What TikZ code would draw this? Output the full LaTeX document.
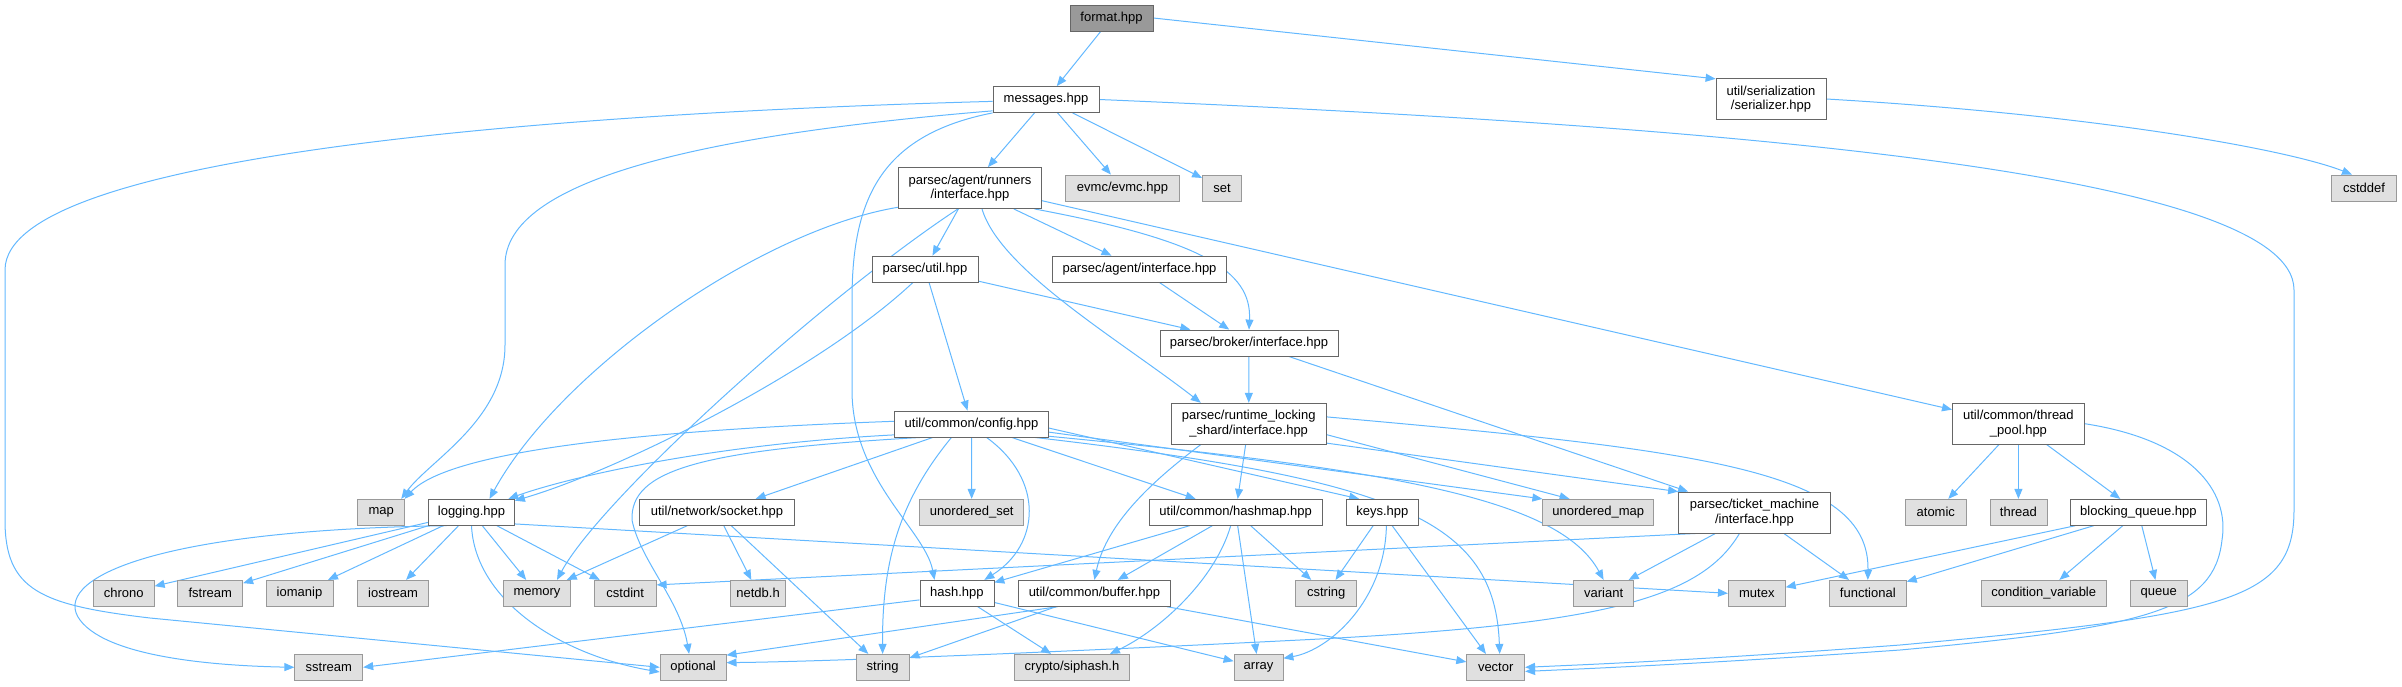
\documentclass[tikz,border=0pt]{standalone}
\usepackage{fontspec}
\setmainfont{Liberation Sans}
\usetikzlibrary{arrows.meta}
\definecolor{edgec}{HTML}{63B8FF}
\definecolor{bord}{HTML}{666666}
\definecolor{gbord}{HTML}{999999}
\definecolor{gfill}{HTML}{E0E0E0}
\pgfdeclarelayer{bg}
\pgfsetlayers{bg,main}
\begin{document}
\begin{tikzpicture}[x=1pt,y=-1pt,
  box/.style={draw=bord, fill=white, line width=0.8pt, inner sep=0pt, minimum height=26pt,
              font=\fontsize{13}{14.5}\selectfont, align=center},
  twoline/.style={minimum height=41pt},
  sysbox/.style={box, draw=gbord, fill=gfill},
  rootbox/.style={box, fill=gbord},
  edge/.style={draw=edgec, line width=1pt, -{Triangle[length=10pt,width=8pt]}}
]
\useasboundingbox (0,0) rectangle (2402,686);

% row 0
\node[rootbox, minimum width=83pt] (format) at (1111.5,18) {format.hpp};
% row 1
\node[box, minimum width=106pt] (messages) at (1046,99.5) {messages.hpp};
\node[box, twoline, minimum width=110pt] (serializer) at (1771,99) {util/serialization\\/serializer.hpp};
% row 2
\node[box, twoline, minimum width=143pt] (runners) at (970,188) {parsec/agent/runners\\/interface.hpp};
\node[sysbox, minimum width=114pt] (evmc) at (1122.5,188) {evmc/evmc.hpp};
\node[sysbox, minimum width=39pt] (set) at (1222,188) {set};
\node[sysbox, minimum width=65pt] (cstddef) at (2364,188) {cstddef};
% row 3
\node[box, minimum width=106pt] (putil) at (925,269) {parsec/util.hpp};
\node[box, minimum width=174pt] (agent) at (1139.5,269) {parsec/agent/interface.hpp};
% row 4
\node[box, minimum width=178pt] (broker) at (1249,343) {parsec/broker/interface.hpp};
% row 5
\node[box, minimum width=154pt] (config) at (971.5,424) {util/common/config.hpp};
\node[box, twoline, minimum width=155pt] (rls) at (1248.7,423.7) {parsec/runtime\_locking\\\_shard/interface.hpp};
\node[box, twoline, minimum width=132pt] (tpool) at (2018.4,423.7) {util/common/thread\\\_pool.hpp};
% row 6
\node[sysbox, minimum width=47pt] (map) at (381.3,512.3) {map};
\node[box, minimum width=86pt] (logging) at (471.5,512.3) {logging.hpp};
\node[box, minimum width=155pt] (socket) at (717,512.3) {util/network/socket.hpp};
\node[sysbox, minimum width=104pt] (uset) at (971.7,512.3) {unordered\_set};
\node[box, minimum width=173pt] (hashmap) at (1235.7,512.3) {util/common/hashmap.hpp};
\node[box, minimum width=72pt] (keys) at (1382.4,512.3) {keys.hpp};
\node[sysbox, minimum width=111pt] (umap) at (1598.3,512.3) {unordered\_map};
\node[box, twoline, minimum width=152pt] (ticket) at (1754.5,512.5) {parsec/ticket\_machine\\/interface.hpp};
\node[sysbox, minimum width=61pt] (atomic) at (1935.8,512.3) {atomic};
\node[sysbox, minimum width=57pt] (thread) at (2018.4,512.3) {thread};
\node[box, minimum width=136pt] (bqueue) at (2138.4,512.3) {blocking\_queue.hpp};
% row 7
\node[sysbox, minimum width=61pt] (chrono) at (123.7,593.3) {chrono};
\node[sysbox, minimum width=65pt] (fstream) at (210.2,593.3) {fstream};
\node[sysbox, minimum width=67pt] (iomanip) at (299.5,593.3) {iomanip};
\node[sysbox, minimum width=71pt] (iostream) at (393.1,593.3) {iostream};
\node[sysbox, minimum width=67pt] (memory) at (537,593.3) {memory};
\node[sysbox, minimum width=62pt] (cstdint) at (625.2,593.3) {cstdint};
\node[sysbox, minimum width=55pt] (netdb) at (758.1,593.3) {netdb.h};
\node[box, minimum width=74pt] (hash) at (956.9,593.3) {hash.hpp};
\node[box, minimum width=152pt] (buffer) at (1094.4,593.3) {util/common/buffer.hpp};
\node[sysbox, minimum width=61pt] (cstring) at (1326.2,593.3) {cstring};
\node[sysbox, minimum width=60pt] (variant) at (1603.6,593.3) {variant};
\node[sysbox, minimum width=57pt] (mutex) at (1756.8,593.3) {mutex};
\node[sysbox, minimum width=77pt] (functional) at (1867.8,593.3) {functional};
\node[sysbox, minimum width=125pt] (condvar) at (2043.7,593.3) {condition\_variable};
\node[sysbox, minimum width=57pt] (queue) at (2158.8,593.3) {queue};
% row 8
\node[sysbox, minimum width=68pt] (sstream) at (328.8,667.3) {sstream};
\node[sysbox, minimum width=66pt] (optional) at (693.1,667.3) {optional};
\node[sysbox, minimum width=53pt] (string) at (882.6,667.3) {string};
\node[sysbox, minimum width=115pt] (siphash) at (1072,667.3) {crypto/siphash.h};
\node[sysbox, minimum width=49pt] (array) at (1258.5,667.3) {array};
\node[sysbox, minimum width=58pt] (vector) at (1495.7,667.3) {vector};

\begin{pgfonlayer}{bg}
% format
\draw[edge] (format) -- (messages);
\draw[edge] (format.east) -- (serializer.160);
\draw[edge] (serializer.east) .. controls (2100,115) and (2290,150) .. ([xshift=-12pt]cstddef.north);
% messages
\draw[edge] (messages) -- (runners);
\draw[edge] (messages) -- (evmc);
\draw[edge] (messages) -- (set);
\draw[edge] (messages.182) .. controls (600,112) and (5,150) .. (5,270) -- (5,520)
  .. controls (5,590) and (40,605) .. (150,618) -- (optional.west);
\draw[edge] (messages.192) .. controls (700,135) and (505,180) .. (505,265) -- (505,345)
  .. controls (505,420) and (430,460) .. ([xshift=-4pt]map.north east);
\draw[edge] (messages.south west) .. controls (880,135) and (852,200) .. (852,300) -- (852,390)
  .. controls (852,480) and (925,530) .. ([xshift=15pt]hash.north west);
\draw[edge] (messages.east) .. controls (1700,125) and (2294,170) .. (2294,290) -- (2294,510)
  .. controls (2294,600) and (2230,615) .. (1900,645) .. controls (1700,660) and (1600,664) .. (vector.east);
% runners
\draw[edge] (runners.195) .. controls (760,230) and (560,370) .. ([xshift=18pt]logging.north);
\draw[edge] (runners.240) .. controls (820,300) and (600,500) .. ([xshift=20pt]memory.north);
\draw[edge] (runners) -- (putil);
\draw[edge] (runners) -- (agent);
\draw[edge] (runners.-18) .. controls (1200,240) and (1252,270) .. (broker.north);
\draw[edge] ([xshift=12pt]runners.south) .. controls (1000,270) and (1120,340) .. ([xshift=30pt]rls.north west);
\draw[edge] (runners.-10) -- (tpool.168);
% parsec/util
\draw[edge] (putil) -- (broker);
\draw[edge] (putil) -- (config);
\draw[edge] ([xshift=-12pt]putil.south) .. controls (820,370) and (620,470) .. (logging.15);
% agent, broker
\draw[edge] (agent) -- (broker);
\draw[edge] (broker) -- (rls);
\draw[edge] (broker) -- ([xshift=10pt]ticket.north west);
% config
\draw[edge] (config.178) .. controls (650,430) and (450,450) .. (map.30);
\draw[edge] (config.188) .. controls (700,445) and (560,480) .. (logging.20);
\draw[edge] (config.195) .. controls (700,450) and (630,470) .. (632,520)
  .. controls (640,560) and (680,600) .. ([xshift=-4pt]optional.north);
\draw[edge] (config) -- (socket);
\draw[edge] (config) -- (uset);
\draw[edge] ([xshift=-20pt]config.south) .. controls (900,500) and (882,560) .. (string.north);
\draw[edge] ([xshift=15pt]config.south) .. controls (1045,480) and (1040,545) .. ([xshift=-10pt]hash.north east);
\draw[edge] (config) -- (hashmap);
\draw[edge] (config.-3) -- (keys.150);
\draw[edge] (config.-6) -- (umap.north west);
\draw[edge] (config.-9) .. controls (1400,470) and (1560,500) .. (variant.north);
\draw[edge] (config.-12) .. controls (1400,480) and (1495,520) .. ([xshift=4pt]vector.north);
% runtime locking shard
\draw[edge] (rls) -- (hashmap);
\draw[edge] ([xshift=30pt]rls.south west) .. controls (1140,490) and (1105,530) .. (buffer.north);
\draw[edge] (rls.-8) -- (umap.155);
\draw[edge] (rls.-14) -- (ticket.north west);
\draw[edge] (rls.5) .. controls (1700,450) and (1870,470) .. (functional.north);
% thread pool
\draw[edge] (tpool) -- (atomic);
\draw[edge] (tpool) -- (thread);
\draw[edge] (tpool) -- (bqueue);
\draw[edge] (tpool.east) .. controls (2190,440) and (2230,490) .. (2222,540)
  .. controls (2214,610) and (2150,627) .. (1900,650) .. controls (1700,664) and (1600,668) .. (vector.-8);
% blocking queue
\draw[edge] (bqueue) -- (mutex);
\draw[edge] (bqueue) -- (functional);
\draw[edge] (bqueue) -- (condvar);
\draw[edge] (bqueue) -- (queue);
% ticket machine
\draw[edge] (ticket.200) -- (cstdint.15);
\draw[edge] (ticket) -- (variant);
\draw[edge] (ticket) -- (functional);
\draw[edge] ([xshift=-15pt]ticket.south) .. controls (1700,600) and (1600,625) .. (1300,640)
  .. controls (1000,655) and (800,662) .. (optional.8);
% hashmap
\draw[edge] (hashmap) -- (hash);
\draw[edge] (hashmap) -- (buffer);
\draw[edge] ([xshift=-5pt]hashmap.south) .. controls (1215,580) and (1160,630) .. ([xshift=-20pt]siphash.north east);
\draw[edge] (hashmap) -- (array);
\draw[edge] (hashmap) -- (cstring);
% keys
\draw[edge] (keys) -- (cstring);
\draw[edge] ([xshift=4pt]keys.south) .. controls (1385,600) and (1330,650) .. (array.20);
\draw[edge] (keys) -- (vector);
% hash
\draw[edge] (hash.190) -- (sstream.east);
\draw[edge] (hash) -- (siphash);
\draw[edge] (hash) -- (array);
% buffer
\draw[edge] (buffer) -- (string);
\draw[edge] (buffer.200) -- (optional.20);
\draw[edge] (buffer) -- (vector);
% logging
\draw[edge] (logging) -- (chrono);
\draw[edge] (logging) -- (fstream);
\draw[edge] (logging) -- (iomanip);
\draw[edge] (logging) -- (iostream);
\draw[edge] (logging) -- (memory);
\draw[edge] (logging) -- (cstdint);
\draw[edge] (logging.south) .. controls (475,600) and (560,655) .. (optional.-172);
\draw[edge] ([xshift=-25pt]logging.south) .. controls (150,530) and (50,580) .. (80,620)
  .. controls (110,660) and (230,666) .. (sstream.west);
\draw[edge] (logging.-15) -- (mutex.west);
% socket
\draw[edge] (socket) -- (memory);
\draw[edge] (socket) -- (netdb);
\draw[edge] (socket) -- (string);
\end{pgfonlayer}
\end{tikzpicture}
\end{document}
